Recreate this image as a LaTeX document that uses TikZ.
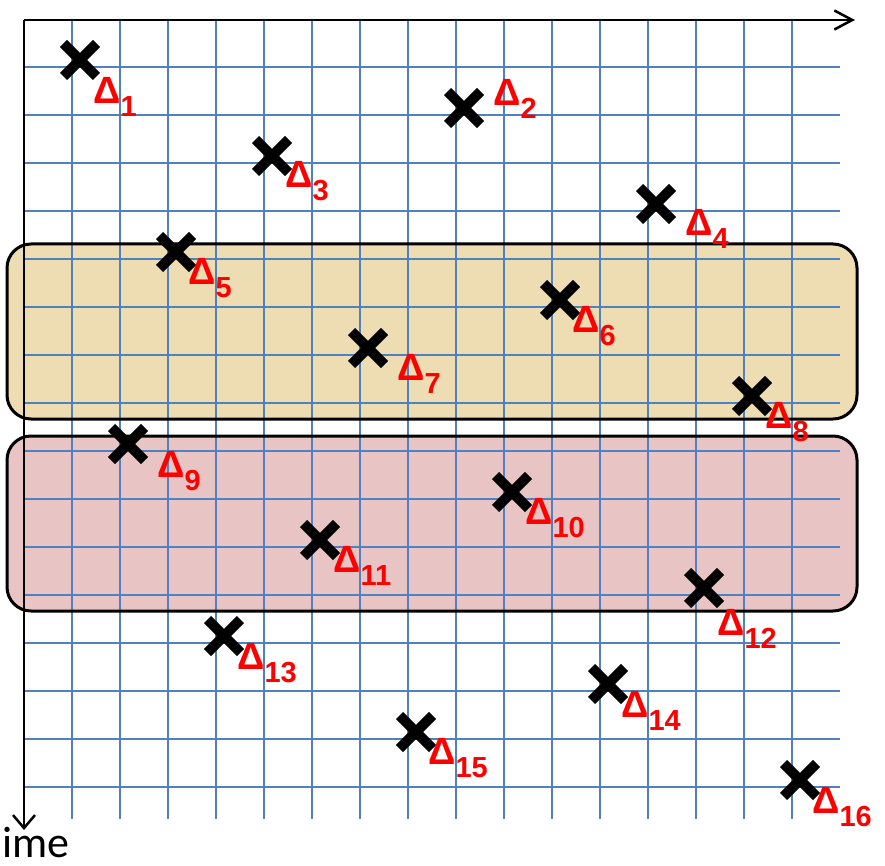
\documentclass[tikz,border=0pt]{standalone}
\usepackage{fontspec}
\setmainfont{Carlito}
\newfontfamily\lblfont{Liberation Sans}
\usetikzlibrary{arrows.meta,shapes.misc}
\definecolor{gridblue}{RGB}{79,129,189}
\definecolor{bandtan}{RGB}{238,220,178}
\definecolor{bandpink}{RGB}{233,196,196}
\newcommand{\dlab}[1]{{\lblfont\bfseries\fontsize{38}{38}\selectfont Δ}\raisebox{-13pt}{\lblfont\bfseries\fontsize{29}{29}\selectfont #1}}

\begin{document}
\begin{tikzpicture}[x=1pt,y=-1pt,band/.style={line width=3pt,rounded corners=24pt},gridline/.style={draw=gridblue,line width=2pt},axis/.style={draw=black,line width=2.5pt},xmark/.style={cross out,draw=black,line width=10pt,minimum size=23pt,inner sep=0pt},lbl/.style={text=red,anchor=base west,inner sep=0pt}]
\useasboundingbox (0,0) rectangle (885,866);
\fill[band,bandtan] (7,244) rectangle (857,419);
\fill[band,bandpink] (7,436) rectangle (857,611);
\foreach \i in {0,...,15} \draw[gridline] ({72+48*\i},20) -- ({72+48*\i},819);
\foreach \j in {0,...,15} \draw[gridline] (24,{67+48*\j}) -- (840,{67+48*\j});
\draw[band] (7,244) rectangle (857,419);
\draw[band] (7,436) rectangle (857,611);
\coordinate (o) at (24,20);
\coordinate (xend) at (855,20);
\coordinate (tend) at (24,830);
\draw[axis,-{Straight Barb[length=18pt,width=19pt]}] (o) -- (xend);
\draw[axis,-{Straight Barb[length=13pt,width=22pt]}] (o) -- (tend);
\node[anchor=base west,inner sep=0pt,font=\fontsize{44}{44}\selectfont] (tlab) at (2,857) {ime};
\foreach \n/\c in {1/0,2/8,3/4,4/12,5/2,6/10,7/6,8/14,9/1,10/9,11/5,12/13,13/3,14/11,15/7,16/15}
  \node[xmark] (d\n) at ({80+48*\c},{60+48*(\n-1)}) {};
\foreach \n/\dx/\dy in {1/13/44,2/29/-2,3/13/32,4/29/32,5/12/33,6/12/32,7/29/32,8/13/32,9/29/33,10/13/32,11/13/32,12/13/47,13/13/33,14/13/33,15/12/32,16/12/33}
  \node[lbl] (l\n) at ([shift={(\dx,\dy)}]d\n.center) {\dlab{\n}};
\end{tikzpicture}
\end{document}
